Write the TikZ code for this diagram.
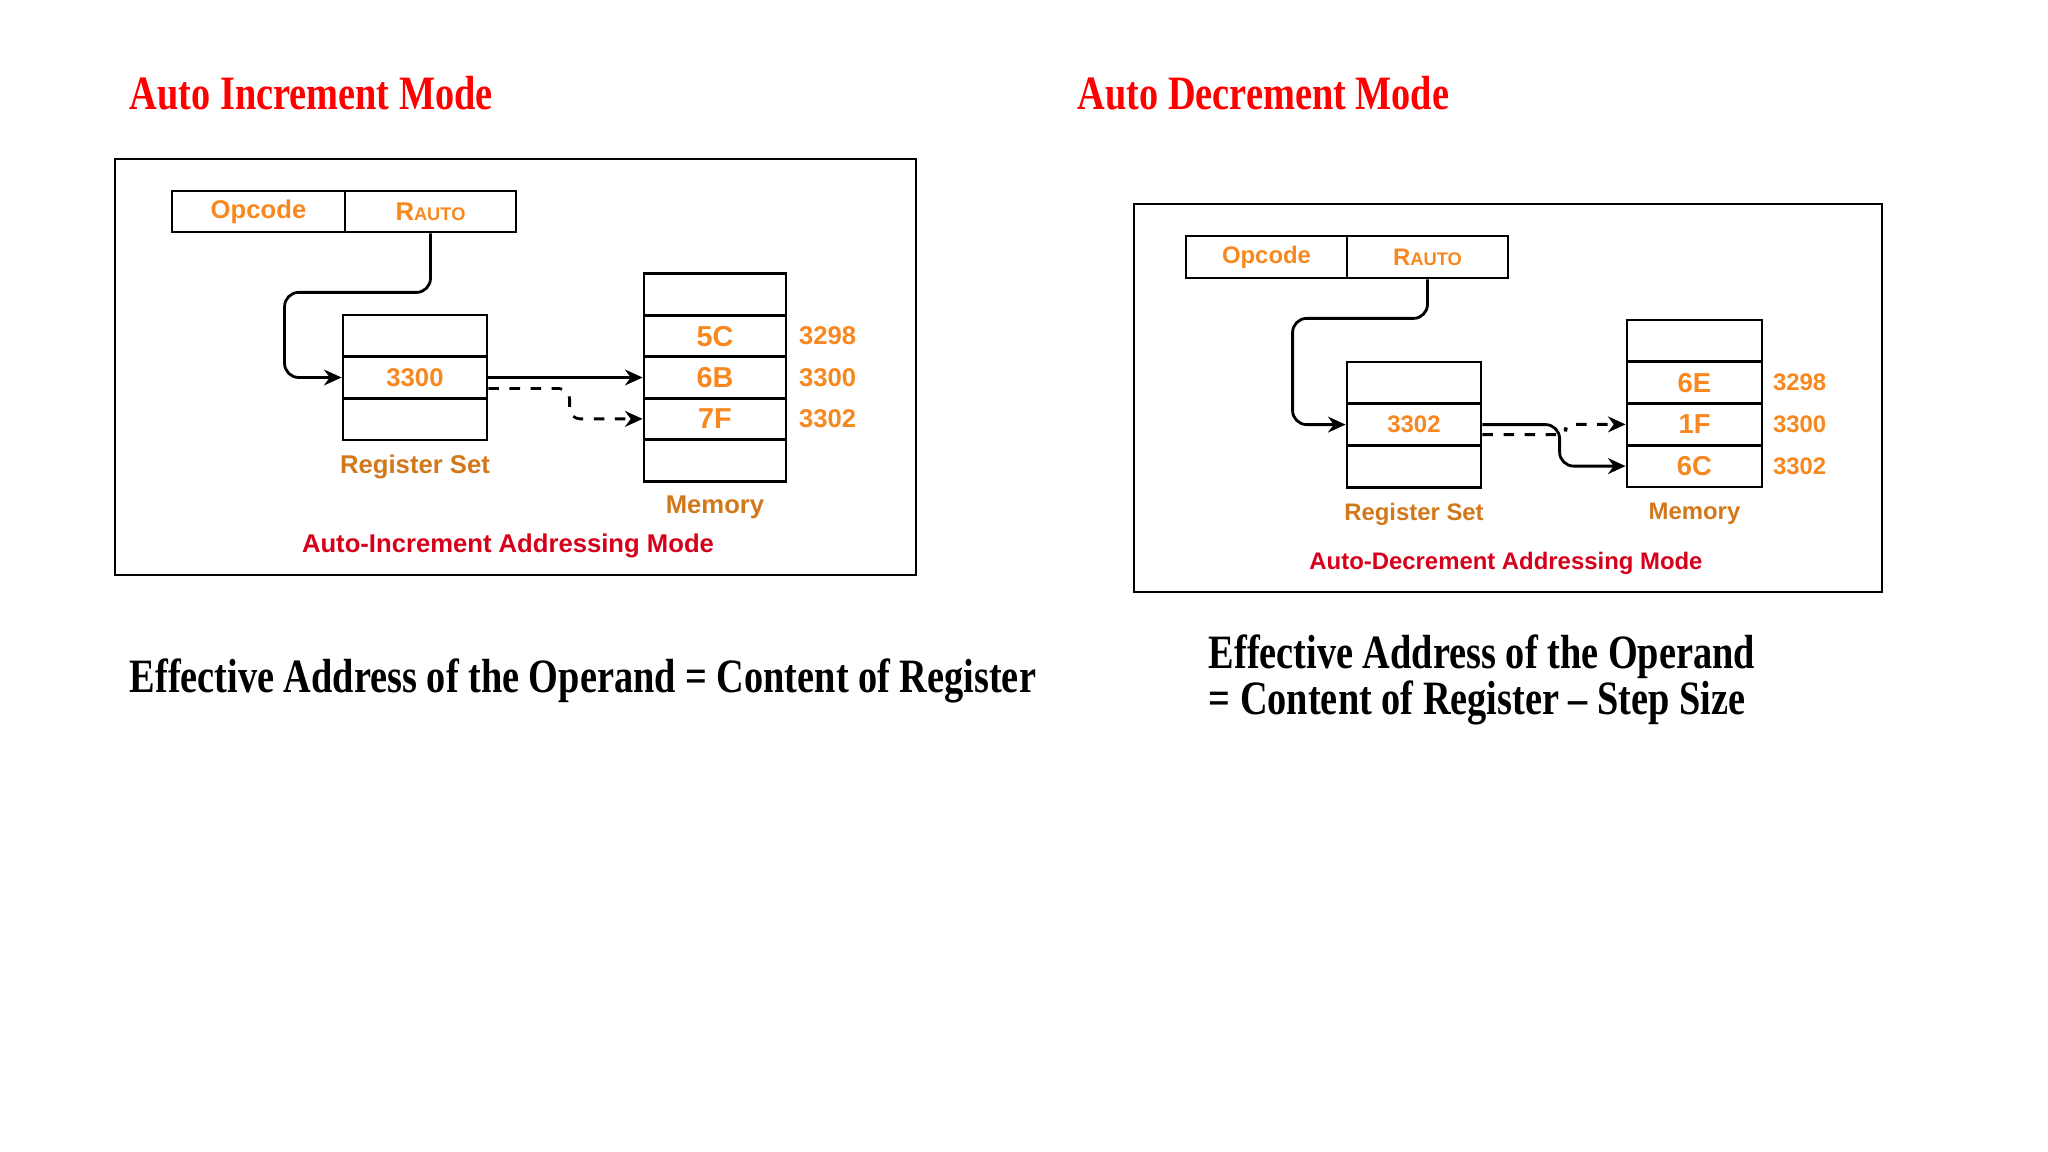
\documentclass[tikz,border=0pt]{standalone}
\usepackage{fontspec}
\setmainfont{Liberation Serif}
\setsansfont{Liberation Sans}
\usetikzlibrary{positioning,arrows.meta}

\definecolor{titlered}{RGB}{255,0,0}
\definecolor{capred}{RGB}{214,0,27}
\definecolor{cellorange}{RGB}{247,135,31}
\definecolor{labelorange}{RGB}{210,120,26}

% size of the diagram text, changed per panel
\newcommand{\csize}{7.3}
\newcommand{\msize}{8.2}
\newcommand{\rauto}[1]{#1{\fontsize{5.2}{6}\selectfont AUTO}}

\begin{document}
\begin{tikzpicture}[
  cell/.style={draw, line width=0.8pt, minimum height=0.417cm, inner sep=0pt, text=cellorange,
    font=\sffamily\bfseries\fontsize{\csize}{\csize}\selectfont},
  memcell/.style={cell, font=\sffamily\bfseries\fontsize{\msize}{\msize}\selectfont},
  addr/.style={inner sep=0pt, text=cellorange, font=\sffamily\bfseries\fontsize{\csize}{\csize}\selectfont},
  partname/.style={inner sep=0pt, text=labelorange, font=\sffamily\bfseries\fontsize{\csize}{\csize}\selectfont},
  caption/.style={inner sep=0pt, text=capred, font=\sffamily\bfseries\fontsize{\csize}{\csize}\selectfont},
  heading/.style={anchor=west, inner sep=0pt, yscale=1.25, text=titlered, font=\bfseries\fontsize{10.9}{13}\selectfont},
  formula/.style={heading, text=black},
  conn/.style={-{Stealth[length=5pt,width=4.5pt]}, line width=0.8pt},
  frame/.style={draw, line width=0.8pt}
]
\useasboundingbox (0,0) rectangle (20.48,-11.52);

% ---- auto increment
\node[heading] (titleinc) at (1.29,-0.93) {Auto Increment Mode};
\draw[frame] (1.15,-1.59) rectangle (9.16,-5.75);

\node[cell, minimum width=1.73cm, minimum height=0.41cm] (opl) at (2.585,-2.115) {Opcode};
\node[cell, minimum width=1.71cm, minimum height=0.41cm] (ral) at (4.305,-2.115) {\rauto{R}};

\node[cell, minimum width=1.44cm] (rl1) at (4.15,-3.358) {};
\node[cell, minimum width=1.44cm] (rl2) at (4.15,-3.775) {3300};
\node[cell, minimum width=1.44cm] (rl3) at (4.15,-4.192) {};
\node[partname, below=0.13cm of rl3] (regl) {Register Set};

\node[memcell, minimum width=1.42cm] (ml1) at (7.15,-2.947) {};
\node[memcell, minimum width=1.42cm] (ml2) at (7.15,-3.361) {5C};
\node[memcell, minimum width=1.42cm] (ml3) at (7.15,-3.775) {6B};
\node[memcell, minimum width=1.42cm] (ml4) at (7.15,-4.189) {7F};
\node[memcell, minimum width=1.42cm] (ml5) at (7.15,-4.603) {};
\node[partname, below=0.13cm of ml5] (meml) {Memory};

\node[addr, right=0.11cm of ml2] (al2) {3298};
\node[addr, right=0.11cm of ml3] (al3) {3300};
\node[addr, right=0.11cm of ml4] (al4) {3302};

\node[caption] (capl) at (5.08,-5.46) {Auto-Increment Addressing Mode};

\draw[conn, rounded corners=4pt] (ral.south) -- ++(0,-0.59) -| ([xshift=-0.57cm]rl2.west) -- (rl2.west);
\draw[conn] (rl2.east) -- (ml3.west);
\draw[conn, dashed, rounded corners=3pt] ([yshift=-0.11cm]rl2.east) -| ([xshift=-0.73cm]ml4.west) -- (ml4.west);

\node[formula] (effl) at (1.29,-6.81) {Effective Address of the Operand = Content of Register};

% ---- auto decrement
\begin{scope}
\renewcommand{\csize}{6.8}
\renewcommand{\msize}{7.8}
\node[heading] (titledec) at (10.77,-0.93) {Auto Decrement Mode};
\draw[frame] (11.34,-2.04) rectangle (18.82,-5.92);

\node[cell, minimum width=1.61cm, minimum height=0.42cm] (opr) at (12.665,-2.57) {Opcode};
\node[cell, minimum width=1.61cm, minimum height=0.42cm] (rar) at (14.275,-2.57) {\rauto{R}};

\node[cell, minimum width=1.34cm] (rr1) at (14.14,-3.829) {};
\node[cell, minimum width=1.34cm] (rr2) at (14.14,-4.246) {3302};
\node[cell, minimum width=1.34cm] (rr3) at (14.14,-4.663) {};
\node[partname, below=0.14cm of rr3] (regr) {Register Set};

\node[memcell, minimum width=1.35cm] (mr1) at (16.945,-3.409) {};
\node[memcell, minimum width=1.35cm] (mr2) at (16.945,-3.826) {6E};
\node[memcell, minimum width=1.35cm] (mr3) at (16.945,-4.244) {1F};
\node[memcell, minimum width=1.35cm] (mr4) at (16.945,-4.661) {6C};
\node[partname, below=0.14cm of mr4] (memr) {Memory};

\node[addr, right=0.09cm of mr2] (ar2) {3298};
\node[addr, right=0.09cm of mr3] (ar3) {3300};
\node[addr, right=0.09cm of mr4] (ar4) {3302};

\node[caption] (capr) at (15.06,-5.63) {Auto-Decrement Addressing Mode};

\draw[conn, rounded corners=4pt] (rar.south) -- ++(0,-0.39) -| ([xshift=-0.53cm]rr2.west) -- (rr2.west);
\draw[conn, rounded corners=4pt] (rr2.east) -| ([xshift=-0.66cm]mr4.west) -- (mr4.west);
\draw[conn, dashed, rounded corners=2pt] ([yshift=-0.1cm]rr2.east) -| ([xshift=-0.6cm]mr3.west) -- (mr3.west);
\end{scope}

\node[formula] (effr1) at (12.08,-6.57) {Effective Address of the Operand};
\node[formula] (effr2) at (12.08,-7.03) {= Content of Register – Step Size};
\end{tikzpicture}
\end{document}
